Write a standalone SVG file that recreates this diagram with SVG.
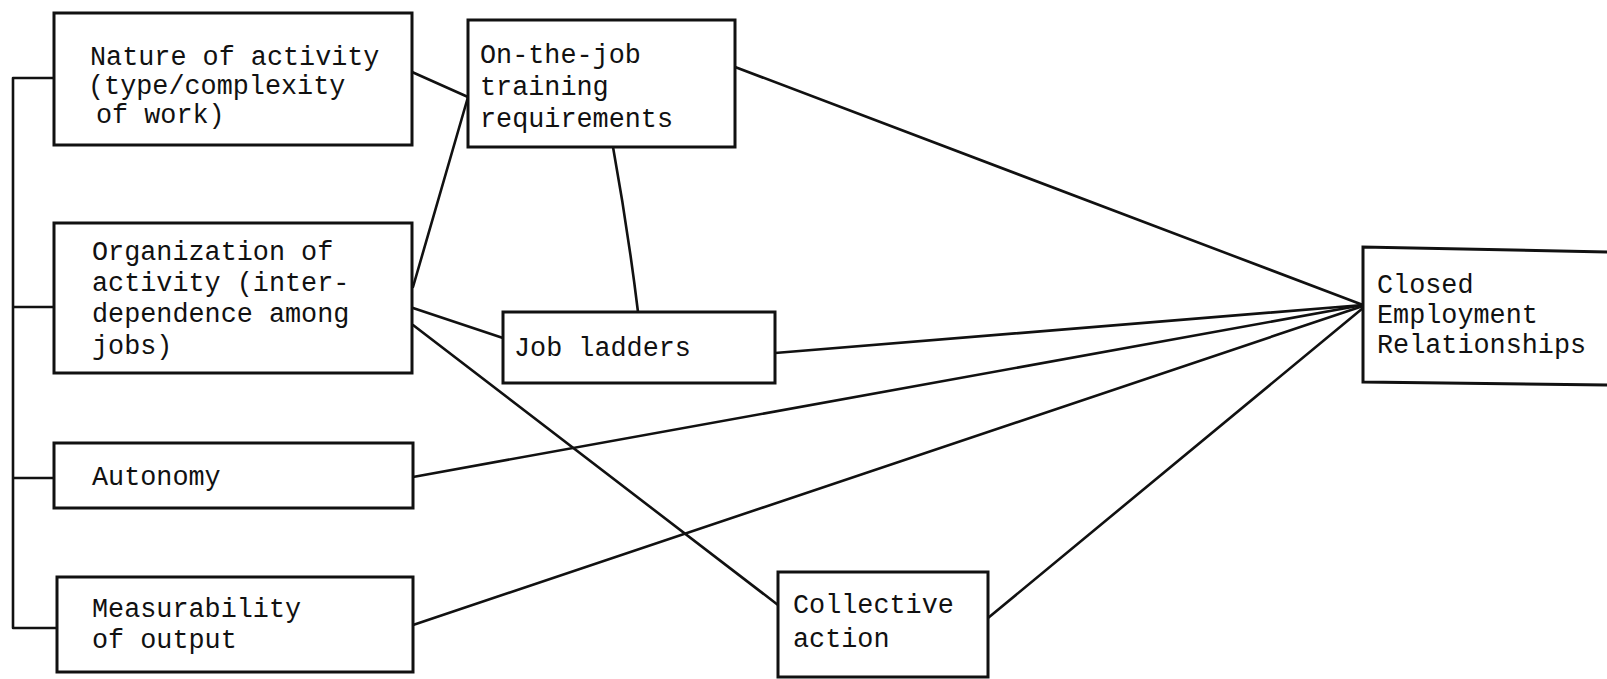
<svg xmlns="http://www.w3.org/2000/svg" width="1607" height="679" viewBox="0 0 1607 679">
<style>
.box{fill:#fff;stroke:#111;stroke-width:3}
.c{fill:none;stroke:#111;stroke-width:2.6;stroke-linecap:round;stroke-linejoin:round}
text{font-family:"Liberation Mono","DejaVu Sans Mono",monospace;font-size:26.8px;fill:#111}
</style>
<rect width="1607" height="679" fill="#fff"/>
<g id="connectors">
<path class="c" d="M13 78 V628 M13 78 H54 M13 307 H54 M13 478 H54 M13 628 H57"/>
<path class="c" d="M412 72 L468 97"/>
<path class="c" d="M413 287 L468 97"/>
<path class="c" d="M613 147 Q628 230 638 312"/>
<path class="c" d="M413 308 L503 338"/>
<path class="c" d="M413 325 L778 605"/>
<path class="c" d="M735 67 L1363 305"/>
<path class="c" d="M775 353 L1363 305"/>
<path class="c" d="M413 477 L1363 305"/>
<path class="c" d="M413 625 L1363 306"/>
<path class="c" d="M988 618 L1363 308"/>
</g>
<g id="nature">
<rect class="box" x="54" y="13" width="358" height="132"/>
<text x="90" y="65">Nature of activity</text>
<text x="88" y="94">(type/complexity</text>
<text x="96" y="123">of work)</text>
</g>
<g id="organization">
<rect class="box" x="54" y="223" width="358" height="150"/>
<text x="92" y="260">Organization of</text>
<text x="92" y="291">activity (inter-</text>
<text x="92" y="322">dependence among</text>
<text x="92" y="354">jobs)</text>
</g>
<g id="autonomy">
<rect class="box" x="54" y="443" width="359" height="65"/>
<text x="92" y="485">Autonomy</text>
</g>
<g id="measurability">
<rect class="box" x="57" y="577" width="356" height="95"/>
<text x="92" y="617">Measurability</text>
<text x="92" y="648">of output</text>
</g>
<g id="onthejob">
<rect class="box" x="468" y="20" width="267" height="127"/>
<text x="480" y="63">On-the-job</text>
<text x="480" y="95">training</text>
<text x="480" y="127">requirements</text>
</g>
<g id="jobladders">
<rect class="box" x="503" y="312" width="272" height="71"/>
<text x="514" y="356">Job ladders</text>
</g>
<g id="collective">
<rect class="box" x="778" y="572" width="210" height="105"/>
<text x="793" y="613">Collective</text>
<text x="793" y="647">action</text>
</g>
<g id="closed">
<path class="box" d="M1610 252 L1363 247 L1363 382 L1610 385"/>
<text x="1377" y="293">Closed</text>
<text x="1377" y="323">Employment</text>
<text x="1377" y="353">Relationships</text>
</g>
</svg>
